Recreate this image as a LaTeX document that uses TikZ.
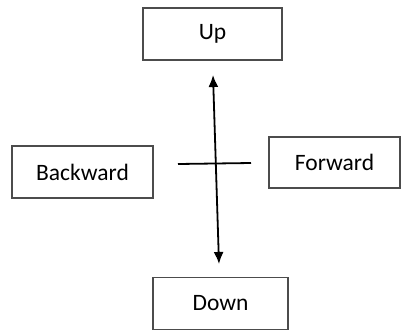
\documentclass[tikz,border=0pt]{standalone}
\usepackage{fontspec}
\setmainfont{Carlito}
\usetikzlibrary{arrows.meta}
\begin{document}
\begin{tikzpicture}[x=1pt,y=-1pt,
      dirbox/.style={draw=black!70, line width=1.3pt, rectangle, inner sep=0pt,
        minimum width=137pt, minimum height=52pt, font=\fontsize{23.5}{26}\selectfont},
      axis/.style={line width=1.8pt, {Latex[length=12pt,width=10pt]}-{Latex[length=12pt,width=10pt]}}]
    \useasboundingbox (0,0) rectangle (401,333);
    \node[dirbox, minimum width=139pt] at (212.5,34) (up) {Up};
    \node[dirbox, minimum width=135pt] at (220.5,303.5) (down) {Down};
    \node[dirbox, minimum width=141pt] at (82.5,172) (backward) {Backward};
    \node[dirbox, minimum width=131pt, minimum height=51pt] at (334.5,162.5) (forward) {Forward};
    \coordinate (top) at (213,75);
    \coordinate (bot) at (219,264);
    \coordinate (left) at (178,164);
    \coordinate (right) at (251,163);
    \draw[axis] (top)--(bot) ;
    \draw[line width=1.8pt] (left)--(right) ;
  \end{tikzpicture}
\end{document}
